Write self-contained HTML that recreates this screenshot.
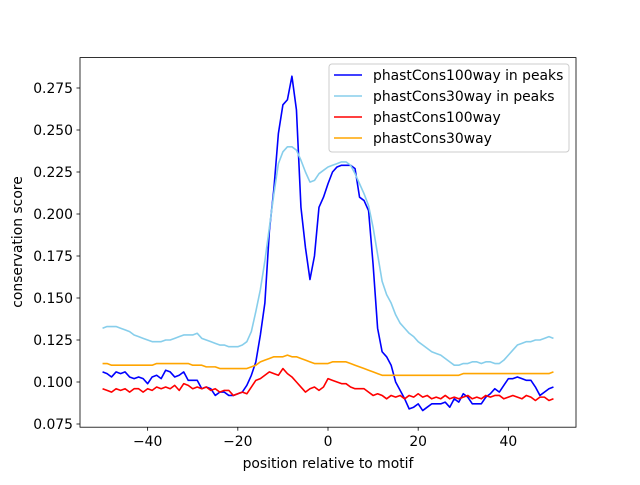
<!DOCTYPE html>
<html><head><meta charset="utf-8"><style>
body{margin:0;background:#fff;}
svg text{font-family:"DejaVu Sans","Liberation Sans",sans-serif;fill:#000;}
</style></head><body>
<svg id="chart" width="640" height="480" viewBox="0 0 640 480">
<rect width="640" height="480" fill="#fff"/>
<g id="plot"></g>
<rect x="80" y="57.6" width="496" height="369.6" fill="none" stroke="#000" stroke-width="0.8"/>
<g id="xt"></g><g id="yt"></g>
<text x="328" y="468" font-size="13.9" text-anchor="middle">position relative to motif</text>
<text transform="translate(22,242) rotate(-90)" font-size="13.9" text-anchor="middle">conservation score</text>
<g>
<rect x="329" y="64" width="240" height="88" rx="3" fill="#fff" fill-opacity="0.8" stroke="#ccc" stroke-width="1"/>
<g id="leg"></g>
</g>
</svg>
<script>
const xValues = Array.from({length:101},(_,i)=>i-50);
const seriesNames = ["phastCons100way in peaks","phastCons30way in peaks","phastCons100way","phastCons30way"];
const seriesColors = ["#0000ff","#87ceeb","#ff0000","#ffa500"];
const blueVals = [.106,.105,.103,.106,.105,.106,.103,.102,.103,.102,.099,.103,.104,.102,.107,.106,.103,.104,.106,.101,.101,.101,.096,.097,.096,.092,.094,.094,.092,.092,.093,.094,.098,.104,.112,.128,.147,.190,.215,.248,.265,.268,.282,.262,.204,.180,.161,.175,.204,.210,.218,.225,.228,.229,.229,.229,.227,.210,.208,.202,.170,.132,.118,.115,.110,.100,.095,.090,.084,.085,.087,.083,.085,.087,.087,.087,.088,.085,.090,.088,.093,.091,.087,.087,.087,.091,.093,.096,.094,.098,.102,.102,.103,.102,.101,.101,.097,.092,.094,.096,.097];
const skyVals = [.132,.133,.133,.133,.132,.131,.130,.128,.127,.126,.125,.124,.124,.124,.125,.125,.126,.127,.128,.128,.128,.129,.126,.125,.124,.123,.122,.122,.121,.121,.121,.122,.124,.130,.142,.155,.172,.192,.212,.230,.237,.240,.240,.238,.232,.225,.219,.220,.224,.226,.228,.229,.230,.231,.231,.229,.224,.218,.212,.205,.192,.176,.160,.152,.147,.140,.135,.132,.129,.127,.124,.122,.120,.118,.117,.116,.114,.112,.110,.110,.111,.111,.112,.112,.111,.112,.112,.111,.111,.113,.116,.119,.122,.123,.124,.124,.125,.125,.126,.127,.126];
const redVals = [.096,.095,.094,.096,.095,.096,.094,.096,.096,.094,.096,.095,.097,.096,.097,.096,.098,.095,.099,.098,.096,.097,.096,.097,.095,.096,.094,.095,.095,.092,.093,.094,.093,.097,.101,.102,.104,.106,.105,.104,.108,.105,.103,.100,.097,.094,.096,.097,.095,.097,.102,.101,.100,.099,.099,.097,.096,.096,.096,.094,.092,.093,.092,.090,.092,.091,.092,.090,.092,.091,.093,.091,.092,.090,.091,.090,.092,.090,.091,.090,.091,.092,.090,.091,.090,.092,.091,.092,.092,.090,.091,.092,.091,.090,.092,.091,.089,.091,.091,.089,.090];
const orangeVals = [.111,.111,.110,.110,.110,.110,.110,.110,.110,.110,.110,.110,.111,.111,.111,.111,.111,.111,.111,.111,.110,.110,.110,.109,.109,.109,.108,.108,.108,.108,.108,.108,.108,.109,.110,.112,.113,.114,.115,.115,.115,.116,.115,.115,.114,.113,.112,.111,.111,.111,.111,.112,.112,.112,.112,.111,.110,.109,.108,.107,.106,.105,.104,.104,.104,.104,.104,.104,.104,.104,.104,.104,.104,.104,.104,.104,.104,.104,.104,.104,.105,.105,.105,.105,.105,.105,.105,.105,.105,.105,.105,.105,.105,.105,.105,.105,.105,.105,.105,.105,.106];
const xTicks = [-40,-20,0,20,40];
const yTicks = [0.075,0.100,0.125,0.150,0.175,0.200,0.225,0.250,0.275];
const NS="http://www.w3.org/2000/svg";
function xs(v){return 80+496*(v+55)/110;}
function ys(v){return 424-(v-0.075)*1680;}
function mk(t,a,p){const e=document.createElementNS(NS,t);for(const k in a)e.setAttribute(k,a[k]);p.appendChild(e);return e;}
const plot=document.getElementById('plot');
const all=[blueVals,skyVals,redVals,orangeVals];
const keys=["series-phastcons100way-peaks","series-phastcons30way-peaks","series-phastcons100way","series-phastcons30way"];
all.forEach((vals,si)=>{
  const d=vals.map((v,i)=>(i?'L':'M')+xs(xValues[i]).toFixed(2)+','+ys(v).toFixed(2)).join(' ');
  const p=mk('path',{d:d,fill:'none',stroke:seriesColors[si],'stroke-width':1.6,'stroke-linejoin':'round'},plot);
  
  
});
const xt=document.getElementById('xt');
xTicks.forEach(t=>{
  const x=xs(t);
  const l=mk('line',{x1:x,x2:x,y1:427.2,y2:430.7,stroke:'#000','stroke-width':0.8},xt);
  
  
  const tx=mk('text',{x:x,y:446,'font-size':13.9,'text-anchor':'middle'},xt);
  tx.textContent=(t<0?'\u2212'+(-t):t);
  
  
});
const yt=document.getElementById('yt');
yTicks.forEach(t=>{
  const y=ys(t);
  const l=mk('line',{x1:76.5,x2:80,y1:y,y2:y,stroke:'#000','stroke-width':0.8},yt);
  
  
  const tx=mk('text',{x:73,y:y+5,'font-size':13.9,'text-anchor':'end'},yt);
  tx.textContent=t.toFixed(3);
  
  
});
const leg=document.getElementById('leg');
seriesNames.forEach((n,i)=>{
  const y=75+i*21;
  const l=mk('line',{x1:334,x2:362,y1:y,y2:y,stroke:seriesColors[i],'stroke-width':1.6},leg);
  
  
  const tx=mk('text',{x:373,y:y+5,'font-size':13.9},leg);
  tx.textContent=n;
  
  
});
</script>
</body></html>
